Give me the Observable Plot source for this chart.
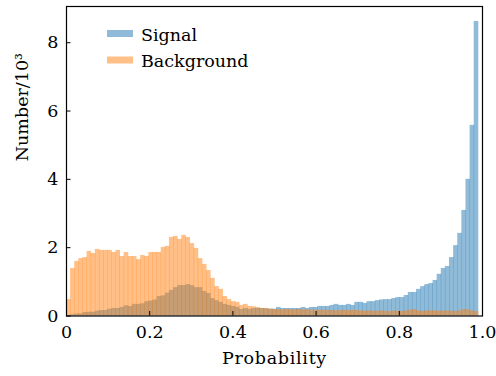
<!DOCTYPE html>
<html><head><meta charset="utf-8">
<script src="https://cdn.jsdelivr.net/npm/d3@7"></script>
<script src="https://cdn.jsdelivr.net/npm/@observablehq/plot@0.6"></script>
<style>body{margin:0;background:#fff}#chart{width:496px;height:376px}
#chart svg text{font-family:"DejaVu Serif",serif !important;font-size:17.5px !important}</style>
</head><body><div id="chart"></div>
<script>
// Histogram bins: 100 bins starting at 0, width 0.0099 (values in units of 10^3)
const binStart = 0;
const binWidth = 0.0099;
const signal = [
  0.02,0.04,0.06,0.06,0.10,0.11,0.11,0.14,0.16,0.16,0.20,0.22,0.22,0.25,0.30,0.28,0.34,0.34,0.36,0.42,0.44,0.47,0.57,0.59,0.67,
  0.75,0.83,0.89,0.89,0.92,0.89,0.83,0.83,0.72,0.66,0.51,0.45,0.40,0.34,0.31,0.28,0.25,0.19,0.22,0.19,0.22,0.22,0.22,0.21,0.20,0.20,
  0.25,0.22,0.22,0.22,0.22,0.22,0.25,0.22,0.25,0.25,0.28,0.28,0.28,0.31,0.34,0.31,0.31,0.34,0.31,0.40,0.40,0.37,0.42,0.42,0.45,
  0.47,0.48,0.48,0.51,0.54,0.54,0.60,0.69,0.69,0.78,0.86,0.92,0.95,1.04,1.22,1.39,1.45,1.71,2.06,2.42,3.09,4.00,5.58,8.62
];
const background = [
  0.48,1.39,1.60,1.68,1.71,1.89,1.83,1.95,1.92,1.92,1.92,1.86,1.92,1.74,1.86,1.74,1.74,1.65,1.77,1.74,1.86,1.86,1.86,2.01,2.04,
  2.30,2.33,2.24,2.36,2.30,2.12,1.98,1.68,1.51,1.33,1.10,0.86,0.78,0.57,0.48,0.42,0.40,0.31,0.34,0.28,0.27,0.25,
  0.22,0.22,0.20,0.19,0.19,0.18,0.19,0.18,0.18,0.19,0.18,0.18,0.17,0.17,0.17,0.17,0.17,0.16,0.15,0.16,0.17,0.15,0.17,0.16,
  0.15,0.14,0.15,0.14,0.14,0.15,0.14,0.13,0.15,0.14,0.13,0.15,0.17,0.19,0.15,0.13,0.15,0.15,0.15,0.14,0.15,0.15,0.14,0.13,
  0.15,0.19,0.18,0.15,0.13
];
const seriesNames = ["Signal", "Background"];
const seriesColors = ["#1f77b4", "#ff7f0e"];
const xTicks = [0, 0.2, 0.4, 0.6, 0.8, 1.0];
const yTicks = [0, 2, 4, 6, 8];
const xLabel = "Probability";
const yLabel = "Number/10³";

const W = 496, H = 376;
const mL = 66, mR = 14, mT = 6, mB = 60.5;
const font = "DejaVu Serif";
const fs = 17.5;

const toRows = vals => vals.map((v, i) => ({x1: binStart + i * binWidth, x2: binStart + (i + 1) * binWidth, y: v}));
const sigRows = toRows(signal);
const bkgRows = toRows(background);

const plot = Plot.plot({
  width: W, height: H,
  marginLeft: mL, marginRight: mR, marginTop: mT, marginBottom: mB,
  style: {fontFamily: font, fontSize: fs + "px", background: "white", color: "black"},
  x: {domain: [0, 1]},
  y: {domain: [0, 9.06]},
  marks: [
    Plot.rect(sigRows, {x1: "x1", x2: "x2", y1: 0, y2: "y", fill: seriesColors[0], fillOpacity: 0.5, insetRight: -0.45}),
    Plot.rect(bkgRows, {x1: "x1", x2: "x2", y1: 0, y2: "y", fill: seriesColors[1], fillOpacity: 0.5, insetRight: -0.45}),
    Plot.tickX(xTicks, {x: d => d, stroke: "black", strokeWidth: 1, insetTop: H - mT - mB - 4.5}),
    Plot.tickY(yTicks, {y: d => d, stroke: "black", strokeWidth: 1, insetRight: W - mL - mR - 4.5}),
    Plot.axisX({ticks: xTicks, tickSize: 0, tickPadding: 10, label: null, fontSize: fs, fontFamily: font,
      tickFormat: d => d === 0 ? "0" : d.toFixed(1)}),
    Plot.axisY({ticks: yTicks, tickSize: 0, tickPadding: 8, label: null, fontSize: fs, fontFamily: font, tickFormat: d => String(d)}),
    Plot.frame({stroke: "black", strokeWidth: 1.2}),
    Plot.text([xLabel], {text: d => d, frameAnchor: "bottom", dy: 42, fontSize: fs, fontFamily: font, lineAnchor: "middle",
      className: "xlab"}),
    Plot.text([yLabel], {text: d => d, frameAnchor: "left", dx: -44, rotate: -90, fontSize: fs, fontFamily: font, lineAnchor: "middle"})
  ]
});
document.getElementById("chart").appendChild(plot);
d3.select(plot).selectAll(".xlab text").attr("letter-spacing", "0.7px");

// Legend (upper left inside the frame)
const svg = d3.select(plot);
const lg = svg.append("g").attr("font-family", font).attr("font-size", fs).attr("text-anchor", "start");
seriesNames.forEach((name, i) => {
  const yc = 33.5 + i * 26.5;
  lg.append("rect").attr("x", 107).attr("y", yc - 3.5).attr("width", 26).attr("height", 7)
    .attr("fill", seriesColors[i]).attr("fill-opacity", 0.5);
  lg.append("text").attr("x", 141).attr("y", yc + 7).attr("fill", "black").attr("text-anchor", "start").text(name);
});
</script>
</body></html>
